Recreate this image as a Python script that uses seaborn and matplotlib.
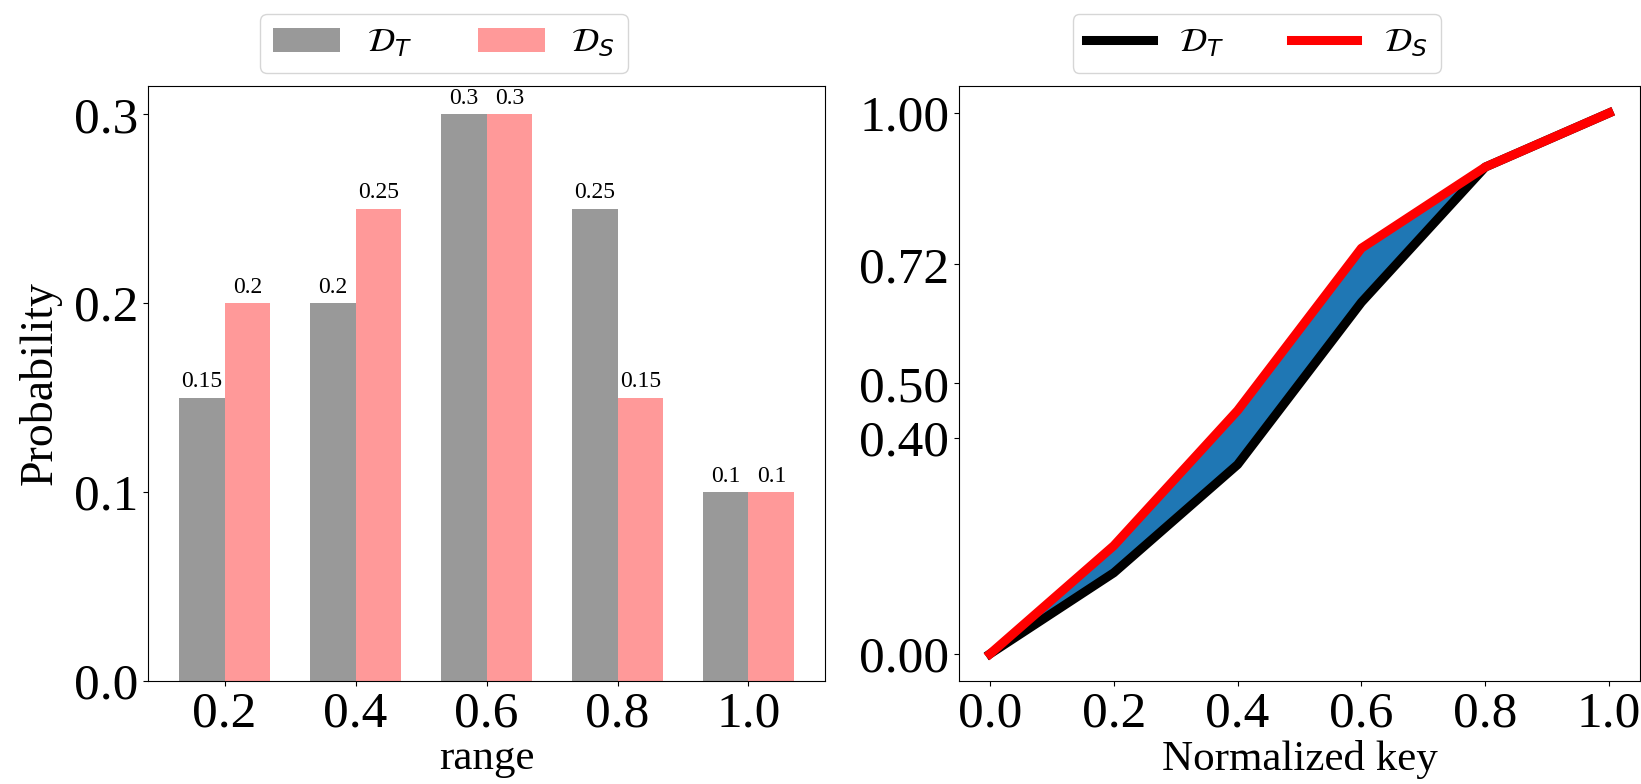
import pandas as pd
import seaborn as sns
import matplotlib.pyplot as plt
from matplotlib.ticker import FormatStrFormatter

# Data
range_labels = ['0.2', '0.4', '0.6', '0.8', '1.0']
dt_probs = [0.15, 0.2, 0.3, 0.25, 0.1]
ds_probs = [0.2, 0.25, 0.3, 0.15, 0.1]

norm_keys = [0.0, 0.2, 0.4, 0.6, 0.8, 1.0]
dt_cdf = [0.0, 0.15, 0.35, 0.65, 0.9, 1.0]
ds_cdf = [0.0, 0.2, 0.45, 0.75, 0.9, 1.0]
cdf_ticks = [0.0, 0.4, 0.5, 0.72, 1.0]

dt_name = r'$\mathcal{D}_T$'
ds_name = r'$\mathcal{D}_S$'

plt.rcParams['font.family'] = ['Liberation Serif', 'DejaVu Sans']

fig = plt.figure(figsize=(16.41, 7.84), dpi=100)
ax1 = fig.add_axes([0.0902, 0.1314, 0.4126, 0.759])
ax2 = fig.add_axes([0.5844, 0.1314, 0.4150, 0.759])

# Left: probability per range
bar_df = pd.DataFrame({
    'range': range_labels * 2,
    'prob': dt_probs + ds_probs,
    'dist': [dt_name] * len(dt_probs) + [ds_name] * len(ds_probs),
})
sns.barplot(data=bar_df, x='range', y='prob', hue='dist',
            palette=['#999999', '#ff9999'], saturation=1, width=0.7,
            linewidth=0, errorbar=None, ax=ax1)
for cont in ax1.containers:
    ax1.bar_label(cont, fmt='%g', fontsize=17, padding=4)
ax1.set_xlim(-0.585, 4.585)
ax1.set_ylim(0, 0.315)
ax1.set_yticks([0.0, 0.1, 0.2, 0.3])
ax1.yaxis.set_major_formatter(FormatStrFormatter('%.1f'))
ax1.set_xlabel('range', fontsize=31, labelpad=2)
ax1.set_ylabel('Probability', fontsize=33, labelpad=9)
ax1.tick_params(labelsize=37)
handles, labels = ax1.get_legend_handles_labels()
ax1.legend(handles, labels, loc='lower center', bbox_to_anchor=(0.437, 1.0),
           ncol=2, fontsize=24, borderaxespad=0.4)

# Right: cumulative distribution over normalized key
ax2.fill_between(norm_keys, dt_cdf, ds_cdf, color='#1f77b4')
sns.lineplot(x=norm_keys, y=dt_cdf, color='black', linewidth=6.5,
             label=dt_name, ax=ax2)
sns.lineplot(x=norm_keys, y=ds_cdf, color='red', linewidth=6.5,
             label=ds_name, ax=ax2)
ax2.set_yticks(cdf_ticks)
ax2.yaxis.set_major_formatter(FormatStrFormatter('%.2f'))
ax2.set_xticks(norm_keys)
ax2.xaxis.set_major_formatter(FormatStrFormatter('%.1f'))
ax2.set_xlabel('Normalized key', fontsize=31, labelpad=2)
ax2.tick_params(labelsize=37)
ax2.legend(loc='lower center', bbox_to_anchor=(0.437, 1.0),
           ncol=2, fontsize=24, borderaxespad=0.4)

fig.savefig('out.png', dpi=100)
